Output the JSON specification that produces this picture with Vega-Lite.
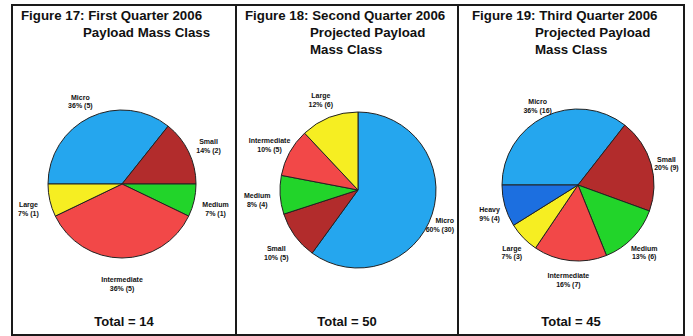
{
  "$schema": "https://vega.github.io/schema/vega-lite/v6.json",
  "background": "white",
  "padding": {"left": 11, "top": 4, "right": 9, "bottom": 1},
  "spacing": 0,
  "bounds": "flush",
  "config": {
    "view": {"stroke": "#1a1a1a", "strokeWidth": 2},
    "text": {"font": "Liberation Sans", "fontWeight": "bold", "color": "#111"}
  },
  "hconcat": [
    {
      "width": 224, "height": 330,
      "view": {"stroke": "#1a1a1a", "strokeWidth": 2},
      "data": {"values": [
        {"k": 1, "cls": "Micro", "n": 5, "label": "Micro\n36% (5)"},
        {"k": 2, "cls": "Small", "n": 2, "label": "Small\n14% (2)"},
        {"k": 3, "cls": "Medium", "n": 1, "label": "Medium\n7% (1)"},
        {"k": 4, "cls": "Intermediate", "n": 5, "label": "Intermediate\n36% (5)"},
        {"k": 5, "cls": "Large", "n": 1, "label": "Large\n7% (1)"}
      ]},
      "layer": [
        {
          "mark": {"type": "arc", "outerRadius": 74, "stroke": "#222", "strokeWidth": 1, "xOffset": -2, "yOffset": 14},
          "encoding": {
            "theta": {"field": "n", "type": "quantitative", "stack": true, "scale": {"range": [-1.5708, 4.7124]}},
            "order": {"field": "k", "type": "quantitative"},
            "color": {"field": "cls", "type": "nominal", "legend": null,
              "scale": {"domain": ["Micro", "Small", "Medium", "Intermediate", "Large", "Heavy"], "range": ["#25a6ee", "#b22c2c", "#22d42a", "#f24848", "#f6ee22", "#1c6fe0"]}}
          }
        },
        {
          "mark": {"type": "text", "radius": 96, "lineBreak": "\n", "fontSize": 7, "lineHeight": 8.5, "xOffset": -2, "yOffset": 14},
          "encoding": {
            "theta": {"field": "n", "type": "quantitative", "stack": true},
            "order": {"field": "k", "type": "quantitative"},
            "detail": {"field": "cls", "type": "nominal"},
            "text": {"field": "label"}
          }
        },
        {
          "data": {"values": [{"t": "Figure 17: First Quarter 2006"}]},
          "mark": {"type": "text", "x": 0, "y": 0, "dx": 9, "dy": 4, "align": "left", "baseline": "top", "fontSize": 13.3},
          "encoding": {"text": {"field": "t"}}
        },
        {
          "data": {"values": [{"t": "Payload Mass Class"}]},
          "mark": {"type": "text", "x": 0, "y": 0, "dx": 71, "dy": 21, "align": "left", "baseline": "top", "lineBreak": "\n", "fontSize": 13.3, "lineHeight": 17},
          "encoding": {"text": {"field": "t"}}
        },
        {
          "data": {"values": [{"t": "Total = 14"}]},
          "mark": {"type": "text", "y": "height", "baseline": "alphabetic", "dy": -9, "fontSize": 13},
          "encoding": {"text": {"field": "t"}}
        }
      ]
    },
    {
      "width": 222, "height": 330,
      "view": {"stroke": "#1a1a1a", "strokeWidth": 2},
      "data": {"values": [
        {"k": 1, "cls": "Micro", "n": 30, "label": "Micro\n60% (30)"},
        {"k": 2, "cls": "Small", "n": 5, "label": "Small\n10% (5)"},
        {"k": 3, "cls": "Medium", "n": 4, "label": "Medium\n8% (4)"},
        {"k": 4, "cls": "Intermediate", "n": 5, "label": "Intermediate\n10% (5)"},
        {"k": 5, "cls": "Large", "n": 6, "label": "Large\n12% (6)"}
      ]},
      "layer": [
        {
          "mark": {"type": "arc", "outerRadius": 78, "stroke": "#222", "strokeWidth": 1, "xOffset": 11, "yOffset": 20},
          "encoding": {
            "theta": {"field": "n", "type": "quantitative", "stack": true, "scale": {"range": [0, 6.2832]}},
            "order": {"field": "k", "type": "quantitative"},
            "color": {"field": "cls", "type": "nominal", "legend": null,
              "scale": {"domain": ["Micro", "Small", "Medium", "Intermediate", "Large", "Heavy"], "range": ["#25a6ee", "#b22c2c", "#22d42a", "#f24848", "#f6ee22", "#1c6fe0"]}}
          }
        },
        {
          "mark": {"type": "text", "radius": 101, "lineBreak": "\n", "fontSize": 7, "lineHeight": 8.5, "xOffset": 11, "yOffset": 20,
            "align": {"expr": "datum.cls === 'Micro' ? 'right' : 'center'"}},
          "encoding": {
            "theta": {"field": "n", "type": "quantitative", "stack": true},
            "order": {"field": "k", "type": "quantitative"},
            "detail": {"field": "cls", "type": "nominal"},
            "text": {"field": "label"}
          }
        },
        {
          "data": {"values": [{"t": "Figure 18: Second Quarter 2006"}]},
          "mark": {"type": "text", "x": 0, "y": 0, "dx": 9, "dy": 4, "align": "left", "baseline": "top", "fontSize": 13.3},
          "encoding": {"text": {"field": "t"}}
        },
        {
          "data": {"values": [{"t": "Projected Payload\nMass Class"}]},
          "mark": {"type": "text", "x": 0, "y": 0, "dx": 74, "dy": 21, "align": "left", "baseline": "top", "lineBreak": "\n", "fontSize": 13.3, "lineHeight": 17},
          "encoding": {"text": {"field": "t"}}
        },
        {
          "data": {"values": [{"t": "Total = 50"}]},
          "mark": {"type": "text", "y": "height", "baseline": "alphabetic", "dy": -9, "fontSize": 13},
          "encoding": {"text": {"field": "t"}}
        }
      ]
    },
    {
      "width": 226, "height": 330,
      "view": {"stroke": "#1a1a1a", "strokeWidth": 2},
      "data": {"values": [
        {"k": 1, "cls": "Micro", "n": 16, "label": "Micro\n36% (16)"},
        {"k": 2, "cls": "Small", "n": 9, "label": "Small\n20% (9)"},
        {"k": 3, "cls": "Medium", "n": 6, "label": "Medium\n13% (6)"},
        {"k": 4, "cls": "Intermediate", "n": 7, "label": "Intermediate\n16% (7)"},
        {"k": 5, "cls": "Large", "n": 3, "label": "Large\n7% (3)"},
        {"k": 6, "cls": "Heavy", "n": 4, "label": "Heavy\n9% (4)"}
      ]},
      "layer": [
        {
          "mark": {"type": "arc", "outerRadius": 76, "stroke": "#222", "strokeWidth": 1, "xOffset": 7, "yOffset": 15},
          "encoding": {
            "theta": {"field": "n", "type": "quantitative", "stack": true, "scale": {"range": [-1.5708, 4.7124]}},
            "order": {"field": "k", "type": "quantitative"},
            "color": {"field": "cls", "type": "nominal", "legend": null,
              "scale": {"domain": ["Micro", "Small", "Medium", "Intermediate", "Large", "Heavy"], "range": ["#25a6ee", "#b22c2c", "#22d42a", "#f24848", "#f6ee22", "#1c6fe0"]}}
          }
        },
        {
          "mark": {"type": "text", "radius": 92, "lineBreak": "\n", "fontSize": 7, "lineHeight": 8.5, "xOffset": 7, "yOffset": 15},
          "encoding": {
            "theta": {"field": "n", "type": "quantitative", "stack": true},
            "order": {"field": "k", "type": "quantitative"},
            "detail": {"field": "cls", "type": "nominal"},
            "text": {"field": "label"}
          }
        },
        {
          "data": {"values": [{"t": "Figure 19: Third Quarter 2006"}]},
          "mark": {"type": "text", "x": 0, "y": 0, "dx": 14, "dy": 4, "align": "left", "baseline": "top", "fontSize": 13.3},
          "encoding": {"text": {"field": "t"}}
        },
        {
          "data": {"values": [{"t": "Projected Payload\nMass Class"}]},
          "mark": {"type": "text", "x": 0, "y": 0, "dx": 77, "dy": 21, "align": "left", "baseline": "top", "lineBreak": "\n", "fontSize": 13.3, "lineHeight": 17},
          "encoding": {"text": {"field": "t"}}
        },
        {
          "data": {"values": [{"t": "Total = 45"}]},
          "mark": {"type": "text", "y": "height", "baseline": "alphabetic", "dy": -9, "fontSize": 13},
          "encoding": {"text": {"field": "t"}}
        }
      ]
    }
  ]
}
